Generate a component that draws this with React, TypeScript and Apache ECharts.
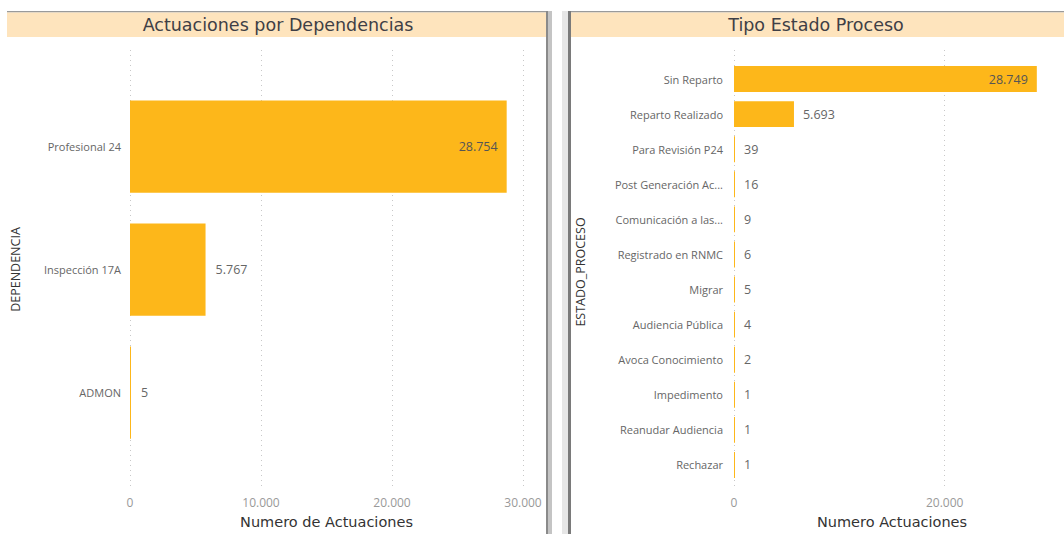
import React, { useEffect, useRef } from "react";
import * as echarts from "echarts";

const depTitle = "Actuaciones por Dependencias";
const depCategories = ["Profesional 24", "Inspección 17A", "ADMON"];
const depValues = [28754, 5767, 5];
const depAxisName = "Numero de Actuaciones";
const depYName = "DEPENDENCIA";

const estTitle = "Tipo Estado Proceso";
const estCategories = [
  "Sin Reparto",
  "Reparto Realizado",
  "Para Revisión P24",
  "Post Generación Ac...",
  "Comunicación a las...",
  "Registrado en RNMC",
  "Migrar",
  "Audiencia Pública",
  "Avoca Conocimiento",
  "Impedimento",
  "Reanudar Audiencia",
  "Rechazar",
];
const estValues = [28749, 5693, 39, 16, 9, 6, 5, 4, 2, 1, 1, 1];
const estAxisName = "Numero Actuaciones";
const estYName = "ESTADO_PROCESO";

const BAR = "#FDB71A";
const FONT = "'Open Sans', 'Noto Sans', sans-serif";
const TITLE_FONT = "'DejaVu Sans', sans-serif";

const fmt = (v: number) => String(v).replace(/\B(?=(\d{3})+(?!\d))/g, ".");

function barData(values: number[]) {
  const max = Math.max(...values);
  return values.map((v) =>
    v / max > 0.5
      ? {
          value: v,
          label: { position: "insideRight", distance: 9, color: "#555" },
        }
      : { value: v }
  );
}

export default function App() {
  const ref = useRef<HTMLDivElement>(null);

  useEffect(() => {
    if (!ref.current) return;
    const chart = echarts.init(ref.current, undefined, { renderer: "svg" });

    const gridLineAxis = (gridIndex: number, interval: number, name: string, showMax: boolean) => ({
      type: "value",
      gridIndex,
      min: 0,
      max: 30000,
      interval,
      axisLine: { show: false },
      axisTick: { show: false },
      splitLine: {
        show: true,
        showMaxLine: showMax,
        lineStyle: { type: [1, 4], color: "#c8c8c8", width: 1 },
      },
      axisLabel: {
        color: "#999",
        fontSize: 12,
        fontFamily: FONT,
        margin: 8,
        showMaxLabel: showMax,
        formatter: (v: number) => fmt(v),
      },
      name,
      nameLocation: "middle",
      nameGap: 26,
      nameTextStyle: { color: "#333", fontSize: 14.5, fontFamily: TITLE_FONT },
    });

    const hiddenValue = (gridIndex: number) => ({
      type: "value",
      gridIndex,
      min: 0,
      max: 30000,
      show: false,
    });

    const catAxis = (gridIndex: number, data: string[], name: string, nameGap: number, margin: number) => ({
      type: "category",
      gridIndex,
      data,
      inverse: true,
      axisLine: { show: false },
      axisTick: { show: false },
      splitLine: { show: false },
      axisLabel: { color: "#666", fontSize: 11, fontFamily: FONT, margin },
      name,
      nameLocation: "middle",
      nameRotate: 90,
      nameGap,
      nameTextStyle: { color: "#333", fontSize: 12.5, fontFamily: FONT },
    });

    const labelBase = {
      show: true,
      position: "right",
      distance: 10,
      color: "#666",
      fontSize: 12.5,
      fontFamily: FONT,
      formatter: (p: any) => fmt(p.value),
    };

    chart.setOption({
      animation: false,
      grid: [
        { left: 130, top: 50, width: 393, height: 440 },
        { left: 130, top: 85, width: 393, height: 369 },
        { left: 734, top: 50, width: 316, height: 440 },
        { left: 734, top: 61.5, width: 316, height: 421 },
      ],
      xAxis: [
        gridLineAxis(0, 10000, depAxisName, true),
        hiddenValue(1),
        gridLineAxis(2, 20000, estAxisName, false),
        hiddenValue(3),
      ],
      yAxis: [
        { type: "value", gridIndex: 0, show: false },
        catAxis(1, depCategories, depYName, 108, 9),
        { type: "value", gridIndex: 2, show: false },
        catAxis(3, estCategories, estYName, 147, 11),
      ],
      series: [
        {
          type: "bar",
          xAxisIndex: 1,
          yAxisIndex: 1,
          data: barData(depValues),
          barWidth: "75%",
          barMinHeight: 1,
          itemStyle: { color: BAR },
          label: labelBase,
        },
        {
          type: "bar",
          xAxisIndex: 3,
          yAxisIndex: 3,
          data: barData(estValues),
          barWidth: "74%",
          barMinHeight: 1,
          itemStyle: { color: BAR },
          label: { ...labelBase, distance: 9 },
        },
      ],
      graphic: [
        // left panel
        { type: "rect", z: -1, shape: { x: 7, y: 11, width: 541, height: 1.5 }, style: { fill: "#9a9a9a" } },
        { type: "rect", z: -1, shape: { x: 7, y: 12.5, width: 541, height: 24.5 }, style: { fill: "#FEE4BD" } },
        { type: "rect", z: -1, shape: { x: 546, y: 11, width: 2, height: 523 }, style: { fill: "#8a8a8a" } },
        { type: "rect", z: -1, shape: { x: 548, y: 11, width: 4, height: 523 }, style: { fill: "#c4c4c4" } },
        {
          type: "text",
          x: 278,
          y: 25,
          style: {
            text: depTitle,
            fill: "#3f3f46",
            font: `17.5px ${TITLE_FONT}`,
            textAlign: "center",
            textVerticalAlign: "middle",
          },
        },
        // right panel
        { type: "rect", z: -1, shape: { x: 562, y: 11, width: 6, height: 523 }, style: { fill: "#e6e6e6" } },
        { type: "rect", z: -1, shape: { x: 568, y: 11, width: 496, height: 1.5 }, style: { fill: "#9a9a9a" } },
        { type: "rect", z: -1, shape: { x: 568, y: 11, width: 3, height: 523 }, style: { fill: "#7a7a7a" } },
        { type: "rect", z: -1, shape: { x: 571, y: 12.5, width: 493, height: 24.5 }, style: { fill: "#FEE4BD" } },
        {
          type: "text",
          x: 816,
          y: 25,
          style: {
            text: estTitle,
            fill: "#3f3f46",
            font: `17.5px ${TITLE_FONT}`,
            textAlign: "center",
            textVerticalAlign: "middle",
          },
        },
      ],
    });

    return () => chart.dispose();
  }, []);

  return (
    <div
      ref={ref}
      style={{ position: "absolute", left: 0, top: 0, width: 1064, height: 534, background: "#fff" }}
    />
  );
}
